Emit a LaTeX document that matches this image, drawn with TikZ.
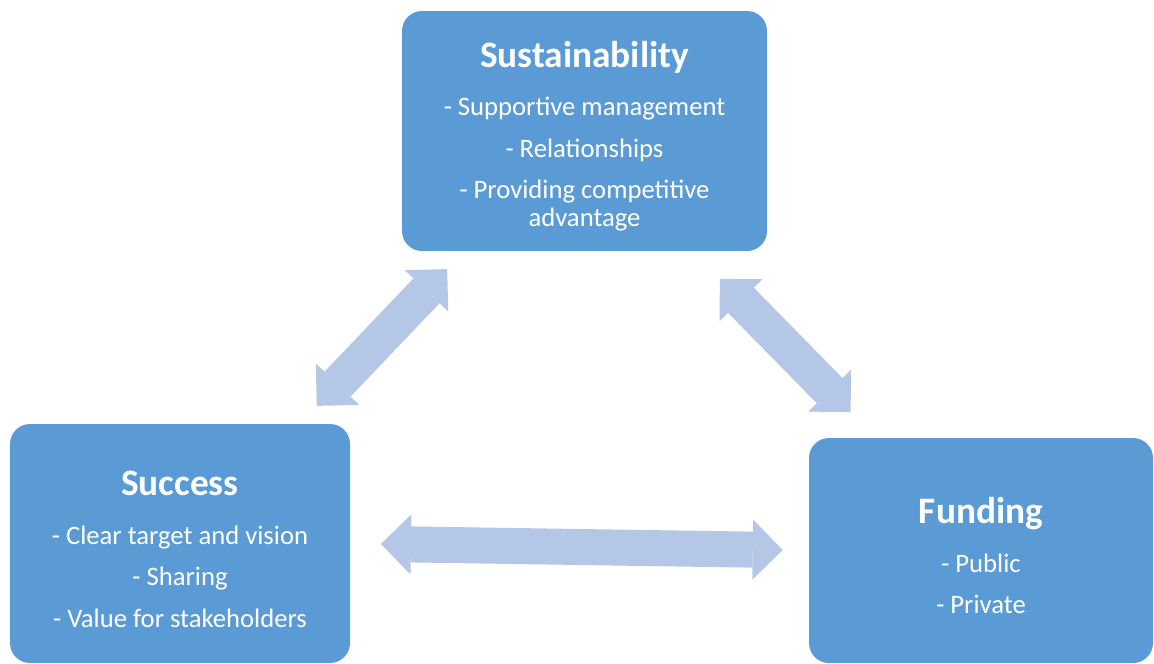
\documentclass[tikz,border=0pt]{standalone}
\usepackage{xcolor}
\usepackage{fontspec}
\setmainfont{Carlito}
\usepackage{tikz}
\usetikzlibrary{arrows.meta}
\usetikzlibrary{positioning}
\definecolor{boxblue}{HTML}{5B9BD5}
\definecolor{linkblue}{HTML}{B4C7E7}
\tikzset{>={Triangle[length=22.5pt, width=45pt, line width=0pt]}}
\tikzstyle{topic} = [rectangle, rounded corners=15pt, fill=boxblue, text=white, align=center, inner sep=0pt, font=\fontsize{20}{21}\selectfont]
\tikzstyle{link} = [<->, draw=linkblue, line width=27pt]
\newcommand{\heading}[1]{{\fontsize{28}{21}\selectfont\bfseries\rule{0pt}{27pt}#1}}

\begin{document}
\begin{tikzpicture}[x=0.75pt, y=-0.75pt]
\useasboundingbox (0,0) rectangle (1154,664);
\node [topic, minimum width=273.75pt, minimum height=180pt] (sust) at (584.5, 131) {\heading{Sustainability}\\[15.5pt] - Supportive management\\[10pt] - Relationships\\[10pt] - Providing competitive\\ advantage};
\node [topic, minimum width=255pt, minimum height=179.25pt] (succ) at (180, 543.5) {\heading{Success}\\[15.5pt] - Clear target and vision\\[10pt] - Sharing\\[10pt] - Value for stakeholders};
\node [topic, minimum width=258pt, minimum height=168.75pt] (fund) at (981, 550.5) {\heading{Funding}\\[15.5pt] - Public\\[10pt] - Private};
\draw [link, shorten <=18.5pt, shorten >=18.5pt] (succ.45) to (sust.225);
\draw [link, shorten <=29pt, shorten >=27pt] (sust.-48) to (fund.133);
\draw [link, shorten <=23pt, shorten >=19.5pt] (succ.east) to (fund.west);
\end{tikzpicture}
\end{document}
